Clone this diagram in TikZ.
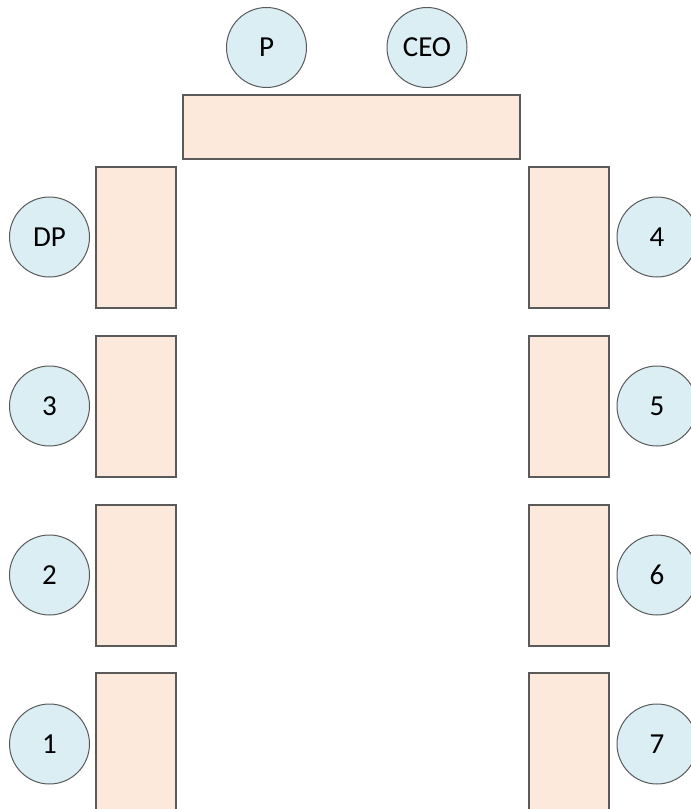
\documentclass[tikz,border=0pt]{standalone}
\usepackage{fontspec}
\setmainfont{Carlito}
\definecolor{seatfill}{HTML}{DAEEF3}
\definecolor{tablefill}{HTML}{FCE9DB}
\definecolor{edgegray}{HTML}{5A5A5A}
\begin{document}
\begin{tikzpicture}[x=1pt,y=-1pt,
  seat/.style={circle,draw=edgegray,fill=seatfill,line width=1pt,minimum size=80pt,inner sep=0pt,font=\fontsize{29}{34}\selectfont},
  tablebox/.style={draw=edgegray,fill=tablefill,line width=1.3pt}]
\useasboundingbox (0,0) rectangle (691,809);
\begin{scope}
\clip (0,0) rectangle (691,809);
% tables
\draw[tablebox] (183,95) rectangle (520,159);
\foreach \y/\h in {167/308,336/477,505/646,673/830}{
  \draw[tablebox] (96,\y) rectangle (176,\h);
  \draw[tablebox] (529,\y) rectangle (609,\h);
}
% seats
\node[seat] (p) at (266.5,47.5) {P};
\node[seat] (ceo) at (427,47.5) {CEO};
\node[seat] (dp) at (49.5,237) {DP};
\node[seat] (s3) at (49.5,406) {3};
\node[seat] (s2) at (49.5,575) {2};
\node[seat] (s1) at (49.5,744) {1};
\node[seat] (s4) at (657,237) {4};
\node[seat] (s5) at (657,406) {5};
\node[seat] (s6) at (657,575) {6};
\node[seat] (s7) at (657,744) {7};
\end{scope}
\end{tikzpicture}
\end{document}
